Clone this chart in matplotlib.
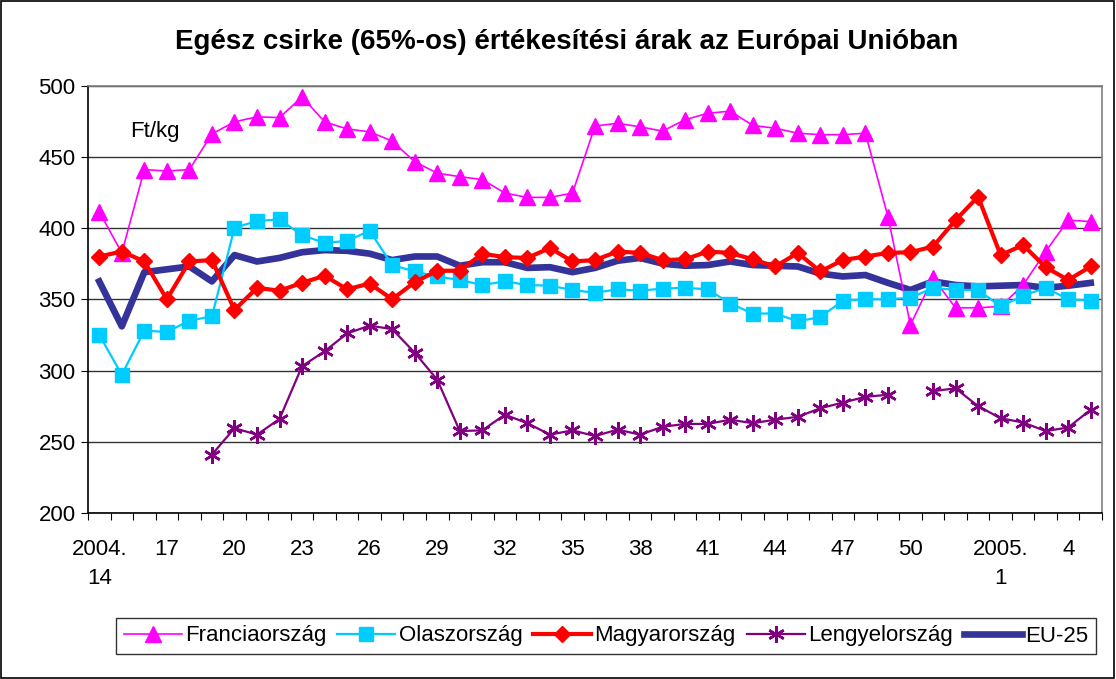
import matplotlib
matplotlib.use('Agg')
import matplotlib.pyplot as plt
import numpy as np
from matplotlib.patches import Rectangle

plt.rcParams['font.family'] = ['Liberation Sans', 'DejaVu Sans']

# hetek: 2004. 14-53, 2005. 1-5
weeks = list(range(14, 54)) + list(range(1, 6))
label_pos = [0, 3, 6, 9, 12, 15, 18, 21, 24, 27, 30, 33, 36, 40, 43]
label_txt = ['2004.\n14', '17', '20', '23', '26', '29', '32', '35', '38', '41',
             '44', '47', '50', '2005.\n1', '4']

francia = [411.5, 382.5, 441, 440, 441, 466, 474.5, 478, 477.5, 492,
           474.5, 469.5, 467.5, 461, 446.5, 438.5, 436, 434, 424.5, 421.5,
           421.5, 424.5, 471.5, 473.5, 471, 468, 476, 480.5, 482, 472,
           470, 466.5, 465.5, 465.5, 466.5, 408, 332, 365, 344, 344,
           345, 360, 383.5, 405.5, 404.5]
olasz = [325, 297, 328, 327, 335, 338, 400, 405, 406, 395,
         389.5, 391, 398, 374, 369.5, 366, 363.5, 360, 362.5, 360,
         359.5, 356.5, 354.5, 357, 356, 357.5, 358, 357, 347, 340,
         340, 334.5, 337.5, 349, 350, 350, 351, 358, 356.5, 356.5,
         345, 352.5, 358, 350, 349]
magyar = [380, 383.5, 376.5, 350, 376.5, 377.5, 342.5, 358, 356, 361.5,
          366.5, 357, 361, 350, 362, 370, 370, 382, 379.5, 379,
          386, 376.5, 377.5, 383.5, 382.5, 377.5, 378, 383.5, 382.5, 378,
          373, 382.5, 369.5, 377.5, 380, 382.5, 383, 387, 405.5, 422,
          381, 388, 372.5, 363.5, 373]
nan = np.nan
lengyel = [nan, nan, nan, nan, nan, 241, 259.5, 255, 266, 303,
           313.5, 326, 331.5, 329, 312.5, 293.5, 257.5, 258, 269, 263,
           255, 258, 254, 258.5, 255, 260.5, 262.5, 262.5, 265.5, 263,
           265.5, 267.5, 273.5, 277.5, 281.5, 283, nan, 285.5, 287.5, 275,
           266.5, 263.5, 257.5, 260, 272.5]
eu25 = [362.5, 331, 369, 371, 373, 362.5, 381, 376.5, 379, 383,
        384.5, 384, 382, 377.5, 380, 380, 373.5, 376, 376, 372,
        372.5, 369, 372, 377, 379, 375, 373.5, 374, 376.5, 374,
        373.5, 373, 368, 366, 367, 361.5, 356.5, 362.5, 360, 359,
        359.5, 360, 358, 359.5, 361.5]

x = np.arange(len(weeks))
fs = 16

fig = plt.figure(figsize=(11.16, 6.79), dpi=100)
ax = fig.add_axes([88/1116, 1-513/679, 1014/1116, 427.5/679])

ax.plot(x, eu25, color='#333399', lw=4.8, label='EU-25', zorder=2)
ax.plot(x, francia, color='#FF00FF', lw=1.2, marker='^', ms=11, label='Franciaország', zorder=3)
ax.plot(x, olasz, color='#00CCFF', lw=1.6, marker='s', ms=9.5, label='Olaszország', zorder=4)
ax.plot(x, magyar, color='#FF0000', lw=3, marker='D', ms=8.5, label='Magyarország', zorder=5)
ax.plot(x, lengyel, color='#800080', lw=1.6, marker=(6, 2, 0), ms=12, mew=1.8,
        label='Lengyelország', zorder=6)

ax.set_xlim(-0.5, len(weeks) - 0.5)
ax.set_ylim(200, 500)
ax.set_yticks(np.arange(200, 501, 50))
ax.yaxis.grid(True, color='#333333', lw=1)
ax.set_axisbelow(True)

# tick vonalak a kategóriahatárokon, feliratok középen
ax.set_xticks(np.arange(-0.5, len(weeks), 1))
ax.set_xticklabels([])
ax.set_xticks(label_pos, minor=True)
ax.set_xticklabels(label_txt, minor=True, fontsize=fs)
ax.tick_params(axis='x', which='major', length=5, direction='out', color='black')
ax.tick_params(axis='x', which='minor', length=0, pad=19)
ax.tick_params(axis='y', length=5, direction='out', labelsize=fs, pad=4)
for lab in ax.get_xticklabels(minor=True):
    lab.set_multialignment('center')
    lab.set_linespacing(1.45)

ax.spines['left'].set_color('black')
ax.spines['bottom'].set_color('black')
ax.spines['top'].set_color('#808080')
ax.spines['right'].set_color('#808080')
for s in ax.spines.values():
    s.set_linewidth(1.2)

ax.text(0.066, 0.893, 'Ft/kg', transform=ax.transAxes, ha='center', va='center', fontsize=fs)

fig.text(567/1116, 1-42/679, 'Egész csirke (65%-os) értékesítési árak az Európai Unióban',
         ha='center', va='center', fontsize=20, fontweight='bold')

h, l = ax.get_legend_handles_labels()
order = [1, 2, 3, 4, 0]
leg = fig.legend([h[i] for i in order], [l[i] for i in order], loc='center',
                 bbox_to_anchor=(606/1116, 1-636/679), ncol=5, fontsize=fs,
                 frameon=True, fancybox=False, edgecolor='black', handlelength=2.6,
                 handletextpad=0.15, columnspacing=0.5, borderpad=0.35)
leg.get_frame().set_linewidth(1)

fig.patches.append(Rectangle((0.001, 0.001), 0.997, 0.997, transform=fig.transFigure,
                             fill=False, edgecolor='black', lw=1.2))

fig.savefig('out.png', dpi=100)
